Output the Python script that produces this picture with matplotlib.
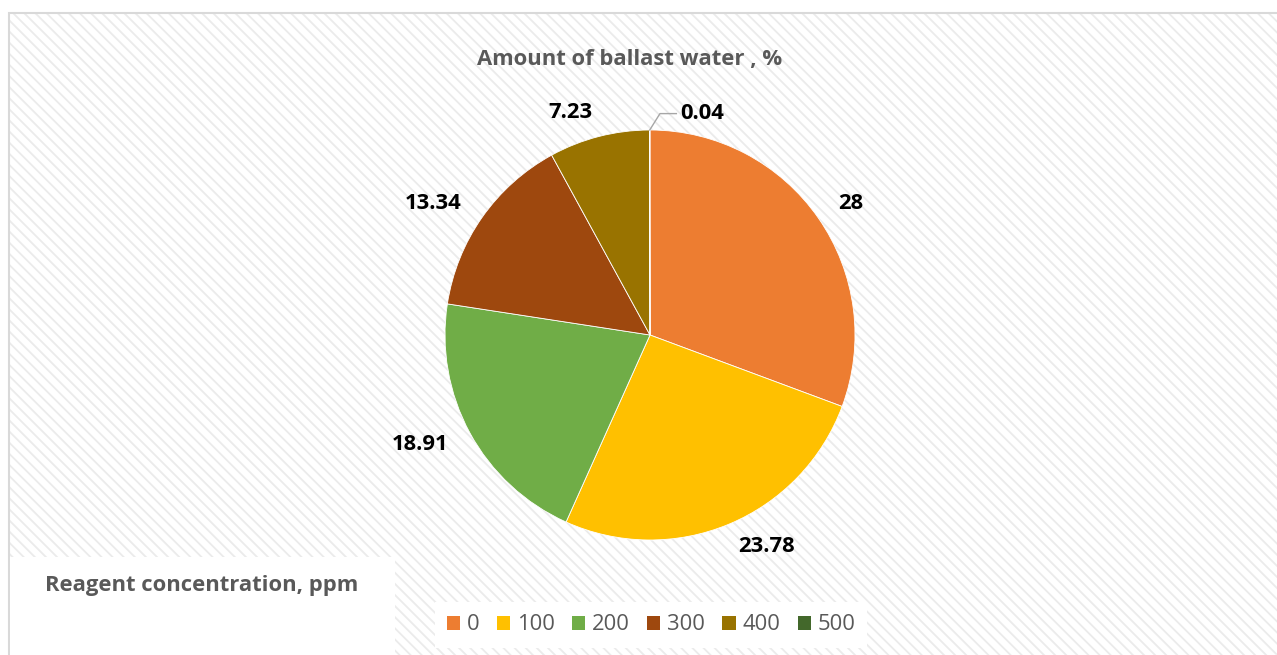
"""Pie chart: amount of ballast water (%) by reagent concentration (ppm)."""
import numpy as np
import matplotlib; matplotlib.use("Agg")
import matplotlib.pyplot as plt
from matplotlib.patches import Rectangle, Patch

concentrations = ["0", "100", "200", "300", "400", "500"]
ballast = [28, 23.78, 18.91, 13.34, 7.23, 0.04]
colors = ["#ED7D31", "#FFC000", "#70AD47", "#9E480E", "#997300", "#43682B"]

W, H = 1277, 655
GRAY = "#595959"
FS = 15.8
plt.rcParams["font.family"] = ["Open Sans", "DejaVu Sans"]
plt.rcParams["hatch.linewidth"] = 1.3

fig = plt.figure(figsize=(W / 100, H / 100), dpi=100)

# chart area with faint diagonal stripes
fig.patches.append(Rectangle((9 / W, 0), 1, 1 - 13 / H, transform=fig.transFigure,
                             facecolor="white", edgecolor="#ebebeb", lw=0,
                             hatch="\\\\\\", zorder=0))
fig.patches.append(Rectangle((9 / W, -0.01), 1, 1 - 13 / H + 0.01, transform=fig.transFigure,
                             facecolor="none", edgecolor="#d9d9d9", lw=1.5, zorder=1))
# white box behind the axis title
fig.patches.append(Rectangle((10 / W, -0.01), 385 / W, 98 / H + 0.01, transform=fig.transFigure,
                             facecolor="white", edgecolor="none", zorder=1))

# pie: centre (650, 335) px, radius 205 px
cx, cy, R, L = 650, 335, 205, 1.5
side = 2 * L * R
ax = fig.add_axes([(cx - side / 2) / W, (H - cy - side / 2) / H, side / W, side / H])
ax.set_zorder(3)
ax.patch.set_visible(False)
wedges, _ = ax.pie(ballast, colors=colors, startangle=90, counterclock=False,
                   wedgeprops=dict(edgecolor="white", linewidth=0.6))
ax.set_xlim(-L, L); ax.set_ylim(-L, L)

for w, v in zip(wedges, ballast):
    mid = np.deg2rad((w.theta1 + w.theta2) / 2)
    lab = f"{v:g}"
    if v < 1:
        # tiny slice: label with a leader line
        x0, y0 = np.cos(mid), np.sin(mid)
        ax.plot([x0, x0 + 0.05, x0 + 0.13], [y0, y0 + 0.08, y0 + 0.08],
                color="#a6a6a6", lw=1)
        ax.text(x0 + 0.15, y0 + 0.08, lab, ha="left", va="center",
                fontsize=FS, fontweight="bold", color="black")
        continue
    x, y = 1.12 * np.cos(mid), 1.12 * np.sin(mid)
    ax.text(x, y, lab, ha="left" if x > 0 else "right", va="center",
            fontsize=FS, fontweight="bold", color="black")

fig.text(630 / W, 1 - 60 / H, "Amount of ballast water , %", ha="center", va="center",
         fontsize=FS, fontweight="bold", color=GRAY)
fig.text(45 / W, 1 - 585 / H, "Reagent concentration, ppm", ha="left", va="center",
         fontsize=FS, fontweight="bold", color=GRAY)

handles = [Patch(facecolor=c, edgecolor="none") for c in colors]
leg = fig.legend(handles, concentrations, loc="center", bbox_to_anchor=(651 / W, 1 - 625 / H),
                 ncol=6, frameon=True, fancybox=False, framealpha=1, fontsize=FS,
                 handlelength=0.6, handleheight=0.6, handletextpad=0.3, columnspacing=0.8,
                 borderpad=0.55, labelcolor=GRAY)
leg.get_frame().set_edgecolor("none")
leg.get_frame().set_facecolor("white")

fig.savefig("out.png", dpi=100, facecolor="white")
